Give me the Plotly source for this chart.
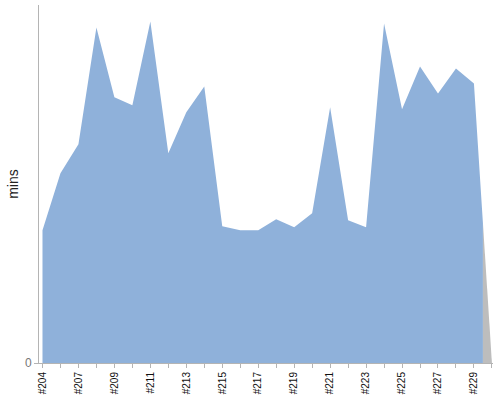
import plotly.graph_objects as go

# Build labels (x categories)
builds = ["#204", "#205", "#207", "#208", "#209", "#210", "#211", "#212", "#213",
          "#214", "#215", "#216", "#217", "#218", "#219", "#220", "#221", "#222",
          "#223", "#224", "#225", "#226", "#227", "#228", "#229", "#230"]
# Build duration in minutes (last build #230 still running -> no value)
mins = [6.65, 9.5, 10.95, 16.8, 13.3, 12.9, 17.1, 10.5, 12.55, 13.85,
        6.85, 6.65, 6.65, 7.2, 6.8, 7.5, 12.8, 7.15, 6.8, 17.0,
        12.7, 14.85, 13.5, 14.75, 14.0]
y_ticks = [0]

BLUE = "#8FB1DA"
GRAY = "#BDBDBD"
AXIS = "#B4B4B4"

n_done = len(mins)
pos = list(range(len(builds)))

# Area rendered like a category area renderer: the last finished build's area
# runs to the midpoint toward the next (missing) build, the rest is gray.
mid_x = (pos[n_done - 1] + pos[n_done]) / 2
mid_y = (mins[-1] + 0) / 2

fig = go.Figure()
fig.add_trace(go.Scatter(
    x=pos[:n_done] + [mid_x], y=mins + [mid_y],
    mode="lines", line=dict(width=0, color=BLUE),
    fill="tozeroy", fillcolor=BLUE, hoverinfo="skip", showlegend=False))
fig.add_trace(go.Scatter(
    x=[mid_x, pos[n_done]], y=[mid_y, 0],
    mode="lines", line=dict(width=0, color=GRAY),
    fill="tozeroy", fillcolor=GRAY, hoverinfo="skip", showlegend=False))

ticktext = [b if i % 2 == 0 else "" for i, b in enumerate(builds)]

fig.update_layout(
    width=500, height=400,
    margin=dict(l=38.5, r=7, t=5, b=36.5),
    paper_bgcolor="white", plot_bgcolor="white",
    font=dict(family="Liberation Sans, Arial, sans-serif", color="#222"),
    xaxis=dict(
        range=[-0.194, 25.06], tickmode="array", tickvals=pos, ticktext=ticktext,
        tickangle=-90, tickfont=dict(size=10, color="#111"),
        ticks="outside", ticklen=4, tickcolor=AXIS,
        showline=True, linecolor=AXIS, linewidth=1,
        showgrid=False, zeroline=False, automargin=False),
    yaxis=dict(
        range=[0, 17.925], tickmode="array", tickvals=y_ticks,
        tickfont=dict(size=12, color="#777"),
        ticks="outside", ticklen=4, tickcolor=AXIS,
        showline=True, linecolor=AXIS, linewidth=1,
        showgrid=False, zeroline=False, automargin=False,
        title=dict(text="mins", font=dict(size=14, color="#222"), standoff=3)),
)

fig.write_html("out.html", config={"displayModeBar": False},
               post_script="document.body.style.margin='0';")
